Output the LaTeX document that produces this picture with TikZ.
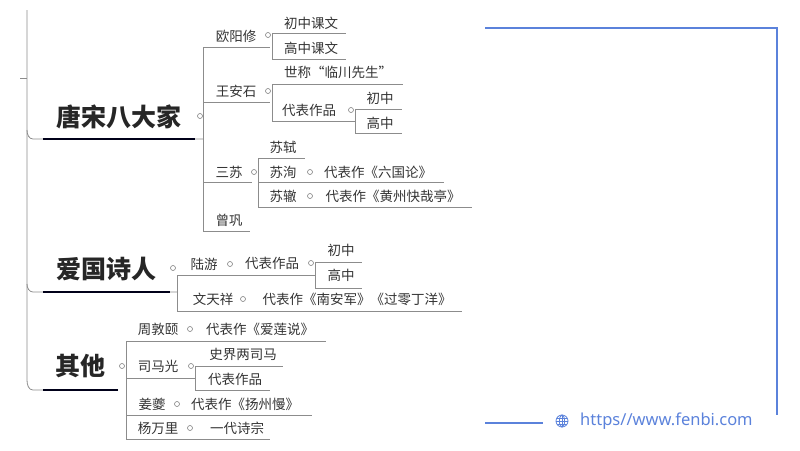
\documentclass[tikz,border=0pt]{standalone}
\usepackage{fontspec}
\setmainfont{Noto Sans CJK SC}
\setsansfont{Noto Sans}
\begin{document}
\begin{tikzpicture}[x=1pt,y=-1pt,
  t/.style={inner sep=0pt,font=\fontsize{13.5}{15}\selectfont,text=black!80},
  big/.style={inner sep=0pt,font=\fontsize{25}{26}\selectfont\bfseries,text=black!85},
  ln/.style={draw=black!45,line width=0.8pt},
  ul/.style={draw=black!75!blue!40!black,line width=2pt},
  dot/.style={circle,draw=black!50,line width=0.6pt,inner sep=0pt,minimum size=5pt,fill=white}]
\useasboundingbox (0,0) rectangle (800,450);
\definecolor{bl}{HTML}{5B82DB}
% main trunk
\draw[ln] (27,10) -- (27,380) to[out=-90,in=180] (33,390) -- (118,390);
\draw[ln] (27,130) to[out=-90,in=180] (33,139) -- (203,139);
\draw[ln] (27,284) to[out=-90,in=180] (33,292) -- (177,292);
\draw[ln] (20,78) -- (27,78);
% topics
\node[big] (tang) at (119,117) {唐宋八大家};
\node[big] (ai) at (106,269) {爱国诗人};
\node[big] (qt) at (80,366) {其他};
\draw[ul] (43,139) -- (195,139);
\draw[ul] (43,292) -- (170,292);
\draw[ul] (43,390) -- (118,390);
\node[dot] at (200,116) {};
\node[dot] at (173,268) {};
\node[dot] at (122,366) {};
% branch 1
\draw[ln] (203,47) -- (203,231);
\node[t] (oy) at (236,36) {欧阳修}; \draw[ln] (203,47) -- (270,47);
\node[dot] at (268,35) {};
\draw[ln] (272,33) -- (272,59);
\node[t] at (311,23) {初中课文}; \draw[ln] (272,33) -- (346,33);
\node[t] at (311,48) {高中课文}; \draw[ln] (272,59) -- (346,59);
\node[t] (wa) at (236,91) {王安石}; \draw[ln] (203,102) -- (270,102);
\node[dot] at (268,91) {};
\draw[ln] (272,84) -- (272,121);
\node[t] at (338,72) {世称“临川先生”}; \draw[ln] (272,84) -- (403,84);
\node[t] at (309,110) {代表作品}; \draw[ln] (272,121) -- (355,121);
\node[dot] at (351,110) {};
\draw[ln] (355,109) -- (355,133);
\node[t] at (380,98) {初中}; \draw[ln] (355,109) -- (402,109);
\node[t] at (380,123) {高中}; \draw[ln] (355,133) -- (402,133);
\node[t] (ss) at (229,172) {三苏}; \draw[ln] (203,182) -- (252,182);
\node[dot] at (254,172) {};
\draw[ln] (258,158) -- (258,207);
\node[t] at (283,147) {苏轼}; \draw[ln] (258,158) -- (305,158);
\node[t] at (283,172) {苏洵}; \draw[ln] (258,182) -- (444,182);
\node[dot] at (310,172) {};
\node[t] at (378,172) {代表作《六国论》};
\node[t] at (283,196) {苏辙}; \draw[ln] (258,207) -- (472,207);
\node[dot] at (310,196) {};
\node[t] at (393,196) {代表作《黄州快哉亭》};
\node[t] at (229,220) {曾巩}; \draw[ln] (203,231) -- (250,231);
% branch 2
\draw[ln] (177,275) -- (177,311);
\node[t] at (204,264) {陆游}; \draw[ln] (177,275) -- (315,275);
\node[dot] at (230,264) {};
\node[t] at (272,263) {代表作品};
\node[dot] at (311,263) {};
\draw[ln] (315,262) -- (315,288);
\node[t] at (341,250) {初中}; \draw[ln] (315,262) -- (362,262);
\node[t] at (341,275) {高中}; \draw[ln] (315,288) -- (362,288);
\node[t] at (213,299) {文天祥}; \draw[ln] (177,311) -- (462,311);
\node[dot] at (243,299) {};
\node[t] at (357,299) {代表作《南安军》《过零丁洋》};
% branch 3
\draw[ln] (126,341) -- (126,439);
\node[t] at (158,329) {周敦颐}; \draw[ln] (126,341) -- (326,341);
\node[dot] at (190,329) {};
\node[t] at (260,329) {代表作《爱莲说》};
\node[t] at (158,366) {司马光}; \draw[ln] (126,378) -- (196,378);
\node[dot] at (191,366) {};
\draw[ln] (195,366) -- (195,390);
\node[t] at (243,354) {史界两司马}; \draw[ln] (195,366) -- (283,366);
\node[t] at (235,379) {代表作品}; \draw[ln] (195,390) -- (270,390);
\node[t] at (152,404) {姜夔}; \draw[ln] (126,415) -- (312,415);
\node[dot] at (177,404) {};
\node[t] at (245,404) {代表作《扬州慢》};
\node[t] at (158,428) {杨万里}; \draw[ln] (126,439) -- (270,439);
\node[dot] at (190,428) {};
\node[t] at (237,428) {一代诗宗};
% blue frame
\draw[draw=bl,line width=1.4pt] (485,28) -- (777,28) -- (777,415);
\draw[draw=bl,line width=1.4pt] (485,423) -- (543,423);
\begin{scope}[draw=bl,line width=0.8pt]
\draw (562,421) circle (6);
\draw (562,421) ellipse (2.6 and 6);
\draw (556,421) -- (568,421);
\draw (557,418) -- (567,418); \draw (557,424) -- (567,424);
\draw (562,415) -- (562,427);
\end{scope}
\node[inner sep=0pt,anchor=west,text=bl,font=\sffamily\fontsize{16.5}{18}\selectfont] (url) at (580,421) {https//www.fenbi.com};
\end{tikzpicture}
\end{document}
